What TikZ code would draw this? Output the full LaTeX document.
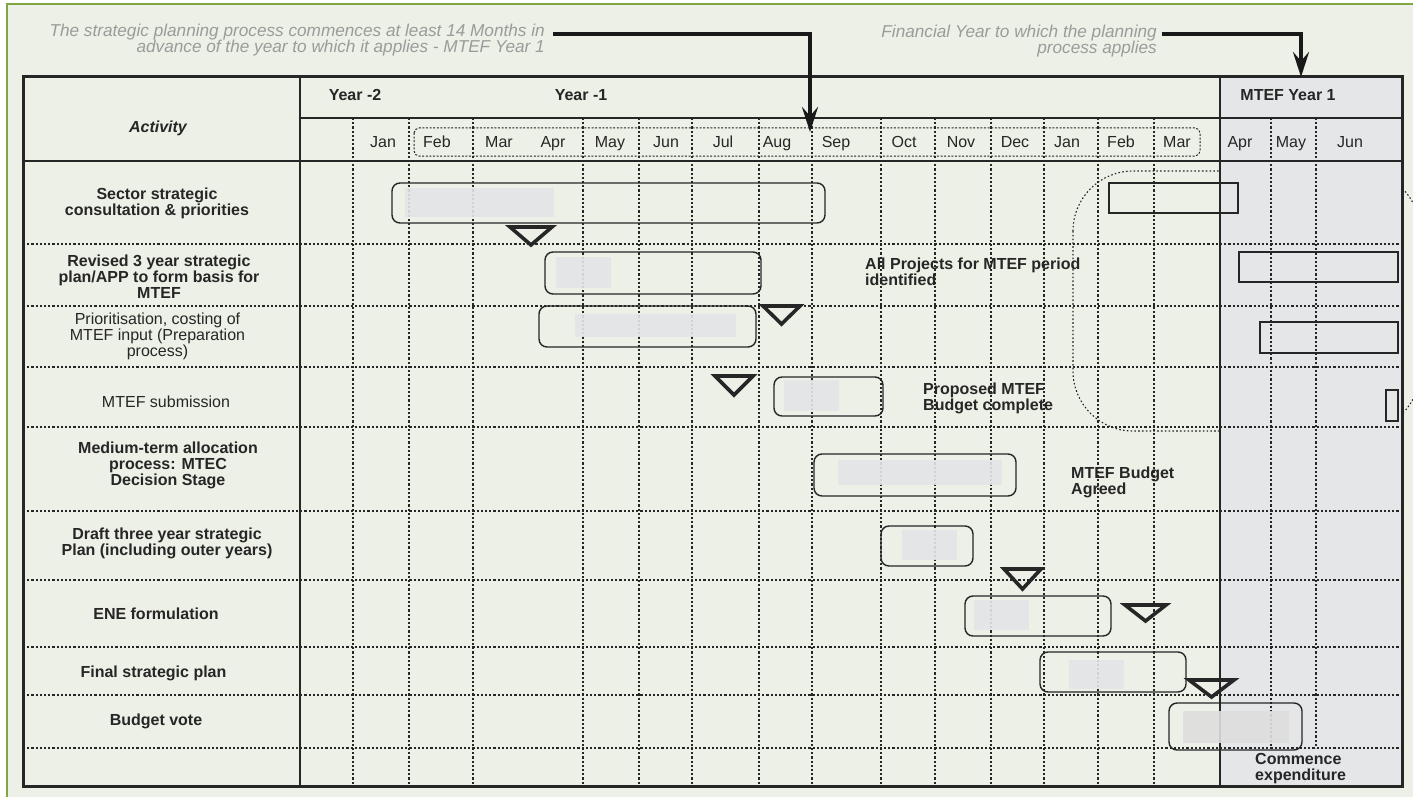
\documentclass[tikz,border=0pt]{standalone}
\usepackage{fontspec}
\setmainfont{Liberation Sans}
\usetikzlibrary{arrows.meta}
\definecolor{bg}{HTML}{EDF0E6}
\definecolor{framegreen}{HTML}{7FA544}
\definecolor{mtefshade}{HTML}{E4E6E8}
\definecolor{barin}{HTML}{E3E4E6}
\definecolor{ink}{HTML}{262626}
\definecolor{notegrey}{HTML}{9B9B9B}
\begin{document}
\begin{tikzpicture}[x=1pt,y=-1pt,
  gridline/.style={ink, line width=1.2pt, dash pattern=on 2.2pt off 2pt},
  solidline/.style={ink, line width=1.5pt},
  barbox/.style={ink, line width=1.4pt, rounded corners=8pt},
  barfill/.style={fill=barin, draw=none, opacity=0.9},
  plainbox/.style={ink, line width=1.6pt},
  tristyle/.style={draw=ink, line width=3.6pt, line join=miter},
  arrowline/.style={draw=black!90, line width=4pt, -{Stealth[length=25pt,width=16pt,inset=9pt]}},
  lab/.style={text=ink, font=\fontsize{16}{16}\selectfont\bfseries, align=center, inner sep=0pt},
  labreg/.style={text=ink, font=\fontsize{16}{16}\selectfont, align=center, inner sep=0pt},
  month/.style={text=ink, font=\fontsize{16}{16}\selectfont, anchor=base, inner sep=0pt},
  yearlab/.style={text=ink, font=\fontsize{16}{16}\selectfont\bfseries, anchor=base, inner sep=0pt},
  notelab/.style={text=notegrey, font=\fontsize{17.2}{16.6}\selectfont\itshape, align=right, anchor=east, inner sep=0pt},
  milestone/.style={text=ink, font=\fontsize{16}{16}\selectfont\bfseries, align=left, anchor=west, inner sep=0pt}
]
\useasboundingbox (0,0) rectangle (1413,797);
\clip (0,0) rectangle (1413,797);
% background and frame
\fill[white] (0,0) rectangle (1413,797);
\fill[bg] (7,4) rectangle (1430,810);
\draw[framegreen, line width=2pt] (7,810) -- (7,4) -- (1430,4);

% dotted rounded region
\draw[ink, line width=1.1pt, dash pattern=on 1.6pt off 2.2pt, rounded corners=60pt] (1073,171) rectangle (1420,431);

% MTEF shading
\fill[mtefshade] (1220,77) rectangle (1402,786);

% grid: horizontal
\foreach \yy in {244,306,367,427,511,580,647,695,748}
  \draw[gridline] (23,\yy) -- (1402,\yy);
% grid: vertical
\foreach \xx in {353,409,473,583,639,692,759,812,881,935,991,1044,1098,1154}
  \draw[gridline] (\xx,118) -- (\xx,786);
\foreach \xx in {1271,1316}
  \draw[gridline] (\xx,118) -- (\xx,748);

% header dotted box
\draw[ink, line width=1pt, dash pattern=on 2pt off 1.6pt, rounded corners=5pt] (414,128) rectangle (1200,156);

% solid table lines
\draw[solidline] (300,77) -- (300,786);
\draw[solidline] (1220,77) -- (1220,786);
\draw[solidline] (300,118) -- (1402,118);
\draw[ink, line width=1.8pt] (23,161) -- (1402,161);
\draw[ink, line width=3pt] (23,77) rectangle (1402,786);

% bars: inner fills
\fill[barfill] (405,188) rectangle (554,217);
\fill[barfill] (556,257) rectangle (611,288);
\fill[barfill] (575,314) rectangle (736,337);
\fill[barfill] (784,380) rectangle (839,411);
\fill[barfill] (838,460) rectangle (1002,485);
\fill[barfill] (902,530) rectangle (957,560);
\fill[barfill] (974,600) rectangle (1029,630);
\fill[barfill] (1069,660) rectangle (1124,689);
\fill[barfill, fill=black!13] (1183,711) rectangle (1289,743);
% bars: outlines
\draw[barbox] (392,183) rectangle (825,223);
\draw[barbox] (545,252) rectangle (761,294);
\draw[barbox] (539,306) rectangle (756,347);
\draw[barbox] (774,377) rectangle (883,416);
\draw[barbox] (814,454) rectangle (1016,496);
\draw[barbox] (881,526) rectangle (973,566);
\draw[barbox] (965,596) rectangle (1111,636);
\draw[barbox] (1040,652) rectangle (1186,692);
\draw[barbox] (1169,703) rectangle (1302,750);

% plain rectangles
\draw[plainbox] (1109,183) rectangle (1238,213);
\draw[plainbox] (1239,252) rectangle (1398,282);
\draw[plainbox] (1260,322) rectangle (1398,353);
\draw[plainbox] (1386,390) rectangle (1398,421);

% milestone triangles
\draw[tristyle] (510,227) -- (552,227) -- (531,245) -- cycle;
\draw[tristyle] (763,306) -- (800,306) -- (781.5,324) -- cycle;
\draw[tristyle] (715,376) -- (753,376) -- (734,395) -- cycle;
\draw[tristyle] (1004,569) -- (1041,569) -- (1022.5,589) -- cycle;
\draw[tristyle] (1125,605) -- (1166,605) -- (1145.5,621) -- cycle;
\draw[tristyle] (1189,680) -- (1234,680) -- (1211.5,697) -- cycle;

% header texts
\node[yearlab] (y2) at (355,101) {Year -2};
\node[yearlab] (y1) at (581,101) {Year -1};
\node[yearlab] (ym) at (1288,101) {MTEF Year 1};
\node[text=ink, font=\fontsize{16}{16}\selectfont\bfseries\itshape, inner sep=0pt] (act) at (158,128) {Activity};

\node[month] (m1) at (383,147) {Jan};
\node[month] (m2) at (437,147) {Feb};
\node[month] (m3) at (499,147) {Mar};
\node[month] (m4) at (553,147) {Apr};
\node[month] (m5) at (610,147) {May};
\node[month] (m6) at (666,147) {Jun};
\node[month] (m7) at (723,147) {Jul};
\node[month] (m8) at (777,147) {Aug};
\node[month] (m9) at (836,147) {Sep};
\node[month] (m10) at (904,147) {Oct};
\node[month] (m11) at (961,147) {Nov};
\node[month] (m12) at (1015,147) {Dec};
\node[month] (m13) at (1067,147) {Jan};
\node[month] (m14) at (1121,147) {Feb};
\node[month] (m15) at (1177,147) {Mar};
\node[month] (m16) at (1240,147) {Apr};
\node[month] (m17) at (1291,147) {May};
\node[month] (m18) at (1350,147) {Jun};

% activity labels
\node[lab] (r1) at (157,203.5) {Sector strategic\\consultation \& priorities};
\node[lab] (r2) at (159,277) {Revised 3 year strategic\\plan/APP to form basis for\\MTEF};
\node[labreg] (r3) at (157.5,336) {Prioritisation, costing of\\MTEF input (Preparation\\process)};
\node[labreg] (r4) at (166,402) {MTEF submission};
\node[lab] (r5) at (168,465) {Medium-term allocation\\process: MTEC\\Decision Stage};
\node[lab] (r6) at (167,543) {Draft three year strategic\\Plan (including outer years)};
\node[lab] (r7) at (156,614) {ENE formulation};
\node[lab] (r8) at (153.5,673) {Final strategic plan};
\node[lab] (r9) at (156,721) {Budget vote};

% milestone labels
\node[milestone] (ms1) at (865,272) {All Projects for MTEF period\\identified};
\node[milestone] (ms2) at (923,398) {Proposed MTEF\\Budget complete};
\node[milestone] (ms3) at (1071,482) {MTEF Budget\\Agreed};
\node[milestone] (ms4) at (1255,769) {Commence\\expenditure};

% annotations
\node[notelab] (n1) at (545,40) {The strategic planning process commences at least 14 Months in\\advance of the year to which it applies - MTEF Year 1};
\node[notelab] (n2) at (1157,41) {Financial Year to which the planning\\process applies};

\coordinate (a1s) at (553,34);
\coordinate (a1e) at (810,132);
\coordinate (a2s) at (1162,34);
\coordinate (a2e) at (1301,77);
\draw[arrowline] (a1s) -| (a1e);
\draw[arrowline] (a2s) -| (a2e);
\end{tikzpicture}
\end{document}
